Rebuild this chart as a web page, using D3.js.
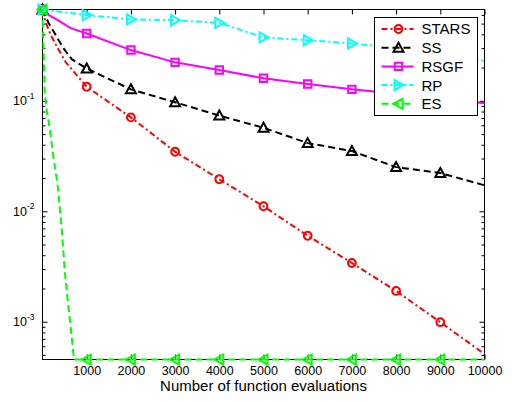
<!DOCTYPE html>
<html>
<head>
<meta charset="utf-8">
<script src="https://cdn.jsdelivr.net/npm/d3@7"></script>
<style>
  html, body { margin: 0; padding: 0; background: #fff; }
  svg { display: block; font-family: "Liberation Sans", Arial, Helvetica, sans-serif; }
</style>
</head>
<body>
<svg id="chart" width="512" height="402"></svg>
<script>
// ---- data -------------------------------------------------------------
const xTicks = [1000, 2000, 3000, 4000, 5000, 6000, 7000, 8000, 9000, 10000];
const yTicks = [1e-3, 1e-2, 1e-1];
const yTickExponents = ["-3", "-2", "-1"];
const xLabel = "Number of function evaluations";
const seriesNames = ["STARS", "SS", "RSGF", "RP", "ES"];
const markerEvals = [0, 1000, 2000, 3000, 4000, 5000, 6000, 7000, 8000, 9000];
const yLimits = [0.000455, 0.671];

const starsEvals = [0, 72, 186, 344, 525, 774, 1000, 2000, 3000, 4000, 5000, 6000, 7000, 8000, 9000, 10000];
const starsValues = [0.671, 0.515, 0.394, 0.300, 0.224, 0.171, 0.134, 0.0708, 0.0346, 0.0195, 0.0111, 0.0060, 0.0034, 0.0019, 0.00099, 0.00051];

const ssEvals = [0, 140, 299, 457, 661, 1000, 2000, 3000, 4000, 5000, 6000, 7000, 8000, 9000, 10000];
const ssValues = [0.671, 0.505, 0.394, 0.306, 0.238, 0.196, 0.127, 0.097, 0.0735, 0.057, 0.0414, 0.0351, 0.0251, 0.0222, 0.0172];

const rsgfEvals = [0, 27, 344, 638, 1000, 2000, 3000, 4000, 5000, 6000, 7000, 8000, 9000, 10000];
const rsgfValues = [0.671, 0.635, 0.537, 0.455, 0.407, 0.288, 0.223, 0.190, 0.160, 0.142, 0.127, 0.116, 0.105, 0.095];

const rpEvals = [0, 1000, 2000, 3000, 4000, 5000, 6000, 7000, 8000, 9000, 10000];
const rpValues = [0.671, 0.597, 0.546, 0.537, 0.508, 0.375, 0.354, 0.331, 0.300, 0.265, 0.230];

const esEvals = [0, 50, 95, 170, 247, 337, 382, 440, 502, 563, 638, 690, 713, 1000, 2000, 3000, 4000, 5000, 6000, 7000, 8000, 9000, 10000];
const esValues = [0.671, 0.117, 0.0824, 0.0543, 0.0309, 0.018, 0.0119, 0.0065, 0.00293, 0.00167, 0.000894, 0.000554, 0.000455, 0.000455, 0.000455, 0.000455, 0.000455, 0.000455, 0.000455, 0.000455, 0.000455, 0.000455, 0.000455];

// ---- layout & scales --------------------------------------------------
const plotLeft = 42.5, plotRight = 484.5, plotTop = 9.5, plotBottom = 359.5;
const svg = d3.select("#chart");
const x = d3.scaleLinear().domain([0, 10000]).range([plotLeft, plotRight]);
const y = d3.scaleLog().domain(yLimits).range([plotBottom, plotTop]);

const series = [
  { name: seriesNames[0], ex: starsEvals, val: starsValues, color: "#ff0000", dash: "6,3,2,3", marker: "circle" },
  { name: seriesNames[1], ex: ssEvals,    val: ssValues,    color: "#000000", dash: "7,4",     marker: "up" },
  { name: seriesNames[2], ex: rsgfEvals,  val: rsgfValues,  color: "#ff00ff", dash: null,      marker: "square" },
  { name: seriesNames[3], ex: rpEvals,    val: rpValues,    color: "#00ffff", dash: "6,3,2,3", marker: "right" },
  { name: seriesNames[4], ex: esEvals,    val: esValues,    color: "#00ff00", dash: "7,4",     marker: "left" }
];

// marker outlines, centred on the data point
function markerPath(type) {
  const s = 5, q = 3.7;
  switch (type) {
    case "up":    return `M0,${-s}L${s},${s * 0.8}L${-s},${s * 0.8}Z`;
    case "right": return `M${-s * 0.8},${-s}L${s},0L${-s * 0.8},${s}Z`;
    case "left":  return `M${s * 0.8},${-s}L${-s},0L${s * 0.8},${s}Z`;
    case "square":return `M${-q},${-q}H${q}V${q}H${-q}Z`;
    default:      return d3.symbol(d3.symbolCircle, Math.PI * 3.9 * 3.9)();
  }
}

// ---- axes -------------------------------------------------------------
function clean(g) { g.select(".domain").remove(); g.selectAll("line").attr("stroke", "#000"); }

svg.append("g").attr("transform", `translate(0,${plotBottom})`)
  .call(d3.axisBottom(x).tickValues(xTicks).tickSizeInner(-5).tickSizeOuter(0).tickPadding(7).tickFormat(d3.format("d")))
  .call(clean)
  .call(g => g.selectAll("text").attr("font-size", 12.5).attr("font-family", "Liberation Sans, Arial, sans-serif").attr("fill", "#000"));

svg.append("g").attr("transform", `translate(0,${plotTop})`)
  .call(d3.axisTop(x).tickValues(xTicks).tickSizeInner(-5).tickSizeOuter(0).tickFormat(""))
  .call(clean);

const minorTicks = y.ticks().filter(v => Math.abs(Math.log10(v) - Math.round(Math.log10(v))) > 1e-6);

[["L", plotLeft], ["R", plotRight]].forEach(([side, px]) => {
  const mk = side === "L" ? d3.axisLeft : d3.axisRight;
  svg.append("g").attr("transform", `translate(${px},0)`)
    .call(mk(y).tickValues(minorTicks).tickSizeInner(-3).tickSizeOuter(0).tickFormat(""))
    .call(clean);
  const major = svg.append("g").attr("transform", `translate(${px},0)`)
    .call(mk(y).tickValues(yTicks).tickSizeInner(-5).tickSizeOuter(0).tickPadding(8).tickFormat(""))
    .call(clean);
  if (side === "L") {
    major.selectAll(".tick text").each(function (d, i) {
      const t = d3.select(this).attr("font-size", 12.5).attr("fill", "#000")
        .attr("font-family", "Liberation Sans, Arial, sans-serif");
      t.text(null);
      t.append("tspan").text("10");
      t.append("tspan").attr("font-size", 8.5).attr("dy", "-0.75em").text(yTickExponents[i]);
    });
  }
});

// axes box
svg.append("rect")
  .attr("x", plotLeft).attr("y", plotTop)
  .attr("width", plotRight - plotLeft).attr("height", plotBottom - plotTop)
  .attr("fill", "none").attr("stroke", "#000").attr("stroke-width", 1);

svg.append("text")
  .attr("x", (plotLeft + plotRight) / 2).attr("y", 391)
  .attr("text-anchor", "middle").attr("font-size", 15).attr("fill", "#000")
  .text(xLabel);

// ---- series -----------------------------------------------------------
const line = d3.line().x(d => x(d[0])).y(d => y(d[1]));

series.forEach(s => {
  const pts = s.ex.map((e, i) => [e, s.val[i]]);
  const g = svg.append("g");
  g.append("path")
    .attr("d", line(pts))
    .attr("fill", "none").attr("stroke", s.color).attr("stroke-width", 2)
    .attr("stroke-dasharray", s.dash)
    .attr("stroke-linejoin", "round");
  g.selectAll("path.mk")
    .data(pts.filter(p => markerEvals.includes(p[0])))
    .join("path").attr("class", "mk")
    .attr("transform", d => `translate(${x(d[0])},${y(d[1])})`)
    .attr("d", markerPath(s.marker))
    .attr("fill", "none").attr("stroke", s.color).attr("stroke-width", 2)
    .attr("stroke-linejoin", "miter");
});

// ---- legend -----------------------------------------------------------
const legend = svg.append("g");
legend.append("rect")
  .attr("x", 374.5).attr("y", 17.5).attr("width", 103).attr("height", 98)
  .attr("fill", "#fff").attr("stroke", "#000").attr("stroke-width", 1);

series.forEach((s, i) => {
  const ry = 29 + i * 18.7;
  legend.append("line")
    .attr("x1", 381.5).attr("x2", 413.5).attr("y1", ry).attr("y2", ry)
    .attr("stroke", s.color).attr("stroke-width", 2).attr("stroke-dasharray", s.dash);
  legend.append("path")
    .attr("transform", `translate(398.5,${ry})`)
    .attr("d", markerPath(s.marker))
    .attr("fill", "none").attr("stroke", s.color).attr("stroke-width", 2);
  legend.append("text")
    .attr("x", 421.5).attr("y", ry + 5.4)
    .attr("font-size", 15).attr("fill", "#000")
    .text(s.name);
});
</script>
</body>
</html>
